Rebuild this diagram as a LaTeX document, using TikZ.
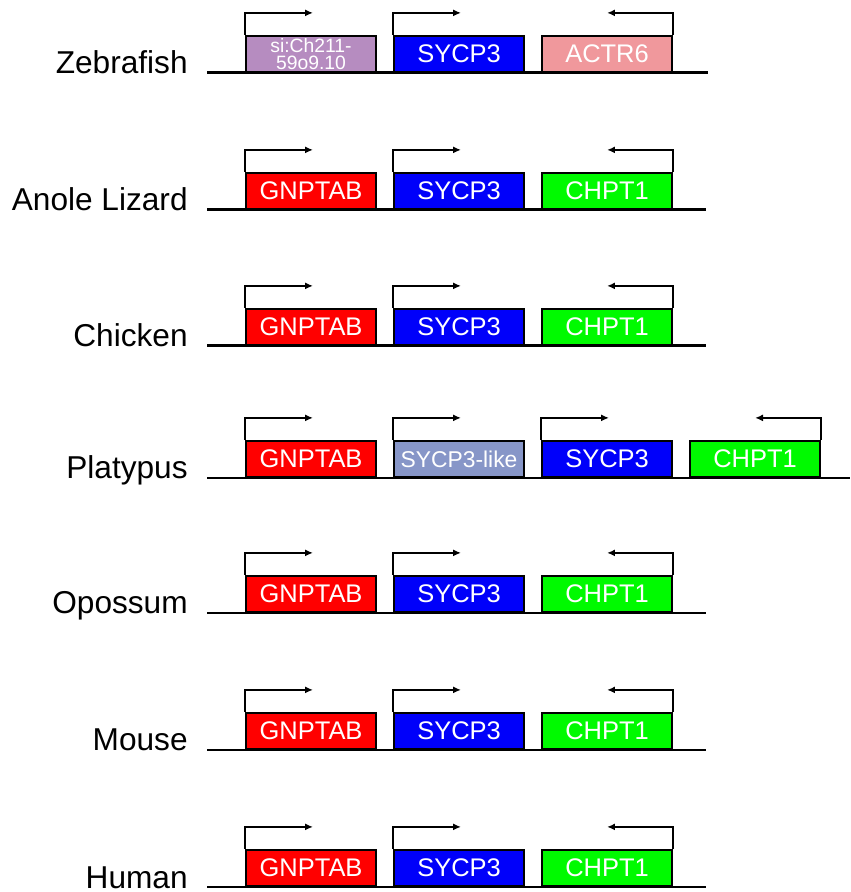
\documentclass[tikz,border=0pt]{standalone}
\usepackage{fontspec}
\setmainfont{Liberation Sans}
\usetikzlibrary{arrows.meta, positioning}

\definecolor{gnptab}{RGB}{255,0,0}
\definecolor{sycp}{RGB}{0,0,250}
\definecolor{chpt}{RGB}{0,250,0}
\definecolor{actr}{RGB}{240,152,156}
\definecolor{sich}{RGB}{182,140,192}
\definecolor{sycplike}{RGB}{135,150,200}

\tikzset{
  gene/.style={draw, line width=1.2pt, anchor=south west, minimum width=2.6cm,
    minimum height=0.72cm, inner sep=0pt, text=white, font=\fontsize{14.5}{15}\selectfont},
  species/.style={anchor=base east, inner sep=0pt, font=\fontsize{18}{20}\selectfont},
  chrom/.style={line width=1.7pt},
  tss/.style={line width=1.1pt, -{Latex[length=4.5pt,width=4pt]}},
}

\begin{document}
\begin{tikzpicture}[x=0.02cm, y=0.02cm]
\useasboundingbox (0,0) rectangle (850,892);

% zebrafish
\node[species] (zf) at (188,818) {Zebrafish};
\coordinate (zfL) at (207,819);
\coordinate (zfR) at (708,819);
\draw[chrom] (zfL) -- (zfR);
\node[gene, fill=sich, align=center, font=\fontsize{11}{9.6}\selectfont] (zf1) at (245,819) {si:Ch211-\\59o9.10};
\node[gene, fill=sycp] (zf2) at (393,819) {SYCP3};
\node[gene, fill=actr] (zf3) at (541,819) {ACTR6};
\draw[tss] (zf1.north west) -- ++(0,22) -- ++(68,0);
\draw[tss] (zf2.north west) -- ++(0,22) -- ++(68,0);
\draw[tss] (zf3.north east) -- ++(0,22) -- ++(-66,0);

% platypus
\node[species] (pl) at (188,413) {Platypus};
\coordinate (plL) at (207,414);
\coordinate (plR) at (850,414);
\draw[chrom] (plL) -- (plR);
\node[gene, fill=gnptab] (pl1) at (245,414) {GNPTAB};
\node[gene, fill=sycplike, font=\fontsize{13}{14}\selectfont] (pl2) at (393,414) {SYCP3-like};
\node[gene, fill=sycp] (pl3) at (541,414) {SYCP3};
\node[gene, fill=chpt] (pl4) at (689,414) {CHPT1};
\draw[tss] (pl1.north west) -- ++(0,22) -- ++(68,0);
\draw[tss] (pl2.north west) -- ++(0,22) -- ++(68,0);
\draw[tss] (pl3.north west) -- ++(0,22) -- ++(68,0);
\draw[tss] (pl4.north east) -- ++(0,22) -- ++(-66,0);

% the other species share one layout
\foreach \sp/\y/\n in {Anole Lizard/682/al, Chicken/546/ch, Opossum/279/op, Mouse/142/mo, Human/5/hu} {
  \node[species] (\n) at (188,\y-1) {\sp};
  \coordinate (\n L) at (207,\y);
  \coordinate (\n R) at (706,\y);
  \draw[chrom] (\n L) -- (\n R);
  \node[gene, fill=gnptab] (\n1) at (245,\y) {GNPTAB};
  \node[gene, fill=sycp] (\n2) at (393,\y) {SYCP3};
  \node[gene, fill=chpt] (\n3) at (541,\y) {CHPT1};
  \draw[tss] (\n1.north west) -- ++(0,22) -- ++(68,0);
  \draw[tss] (\n2.north west) -- ++(0,22) -- ++(68,0);
  \draw[tss] (\n3.north east) -- ++(0,22) -- ++(-66,0);
}
\end{tikzpicture}
\end{document}
